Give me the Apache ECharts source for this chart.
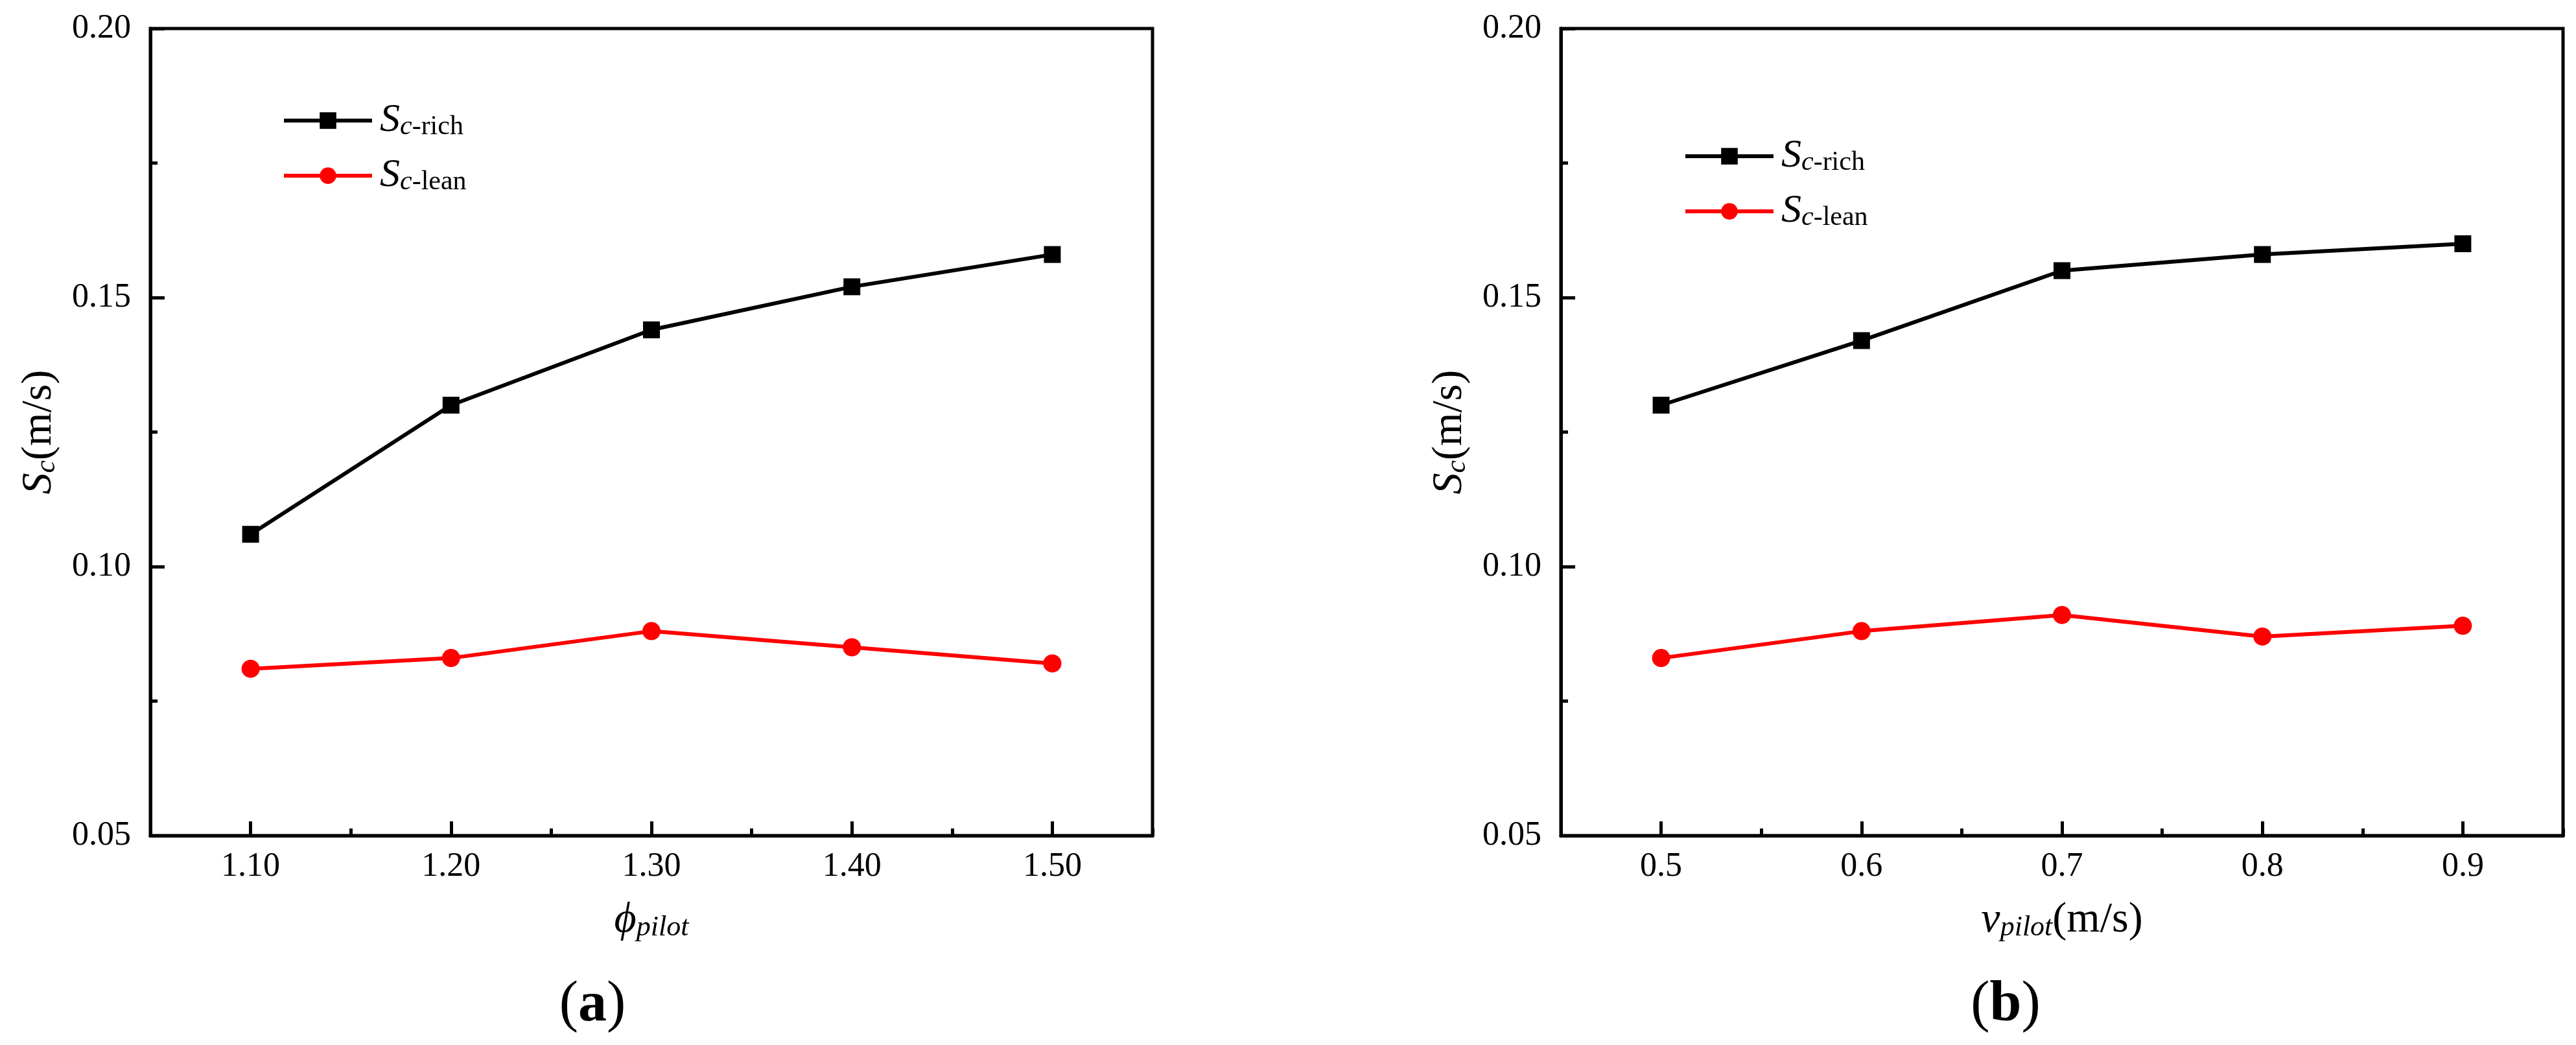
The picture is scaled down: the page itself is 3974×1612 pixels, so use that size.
<!DOCTYPE html>
<html>
<head>
<meta charset="utf-8">
<script src="https://cdn.jsdelivr.net/npm/echarts@6/dist/echarts.min.js"></script>
<style>
html,body{margin:0;padding:0;background:#fff;}
#chart{width:3974px;height:1612px;}
</style>
</head>
<body>
<div id="chart"></div>
<script>
// ---- data ----
const phiPilot = [1.10, 1.20, 1.30, 1.40, 1.50];
const richA = [0.106, 0.130, 0.144, 0.152, 0.158];
const leanA = [0.081, 0.083, 0.088, 0.085, 0.082];

const vPilot = [0.5, 0.6, 0.7, 0.8, 0.9];
const richB = [0.130, 0.142, 0.155, 0.158, 0.160];
const leanB = [0.083, 0.088, 0.091, 0.087, 0.089];

const xTicksA = [1.10, 1.20, 1.30, 1.40, 1.50];
const xTicksB = [0.5, 0.6, 0.7, 0.8, 0.9];
const yTicks = [0.05, 0.10, 0.15, 0.20];

const seriesNames = ['Sc-rich', 'Sc-lean'];
const panelLabels = ['a', 'b'];

// ---- styling ----
const FONT = '"Liberation Serif", "Times New Roman", "DejaVu Serif", serif';
const LW = 6;
const TW = 5;
const zip = (xs, ys) => xs.map((x, i) => [x, ys[i]]);

const subRich = {
  S: {fontFamily: FONT, fontStyle: 'italic', fontSize: 66, lineHeight: 66, color: '#000', verticalAlign: 'bottom'},
  c: {fontFamily: FONT, fontStyle: 'italic', fontSize: 44, lineHeight: 20, color: '#000', verticalAlign: 'bottom'},
  t: {fontFamily: FONT, fontSize: 66, lineHeight: 66, color: '#000', verticalAlign: 'bottom'},
  phi: {fontFamily: FONT, fontStyle: 'italic', fontSize: 66, lineHeight: 66, color: '#000', verticalAlign: 'bottom'}
};
const legRich = {
  S: {fontFamily: FONT, fontStyle: 'italic', fontSize: 62, lineHeight: 62, color: '#000', verticalAlign: 'bottom', padding: [0, 0, 0, 7]},
  c: {fontFamily: FONT, fontStyle: 'italic', fontSize: 42, lineHeight: 19, color: '#000', verticalAlign: 'bottom'},
  t: {fontFamily: FONT, fontSize: 42, lineHeight: 19, color: '#000', verticalAlign: 'bottom'}
};

const grids = [
  {left: 232, top: 44, width: 1546, height: 1245},
  {left: 2408, top: 44, width: 1546, height: 1245}
];

function labelStyle(fmt, custom) {
  const o = {show: true, color: '#000', fontFamily: FONT, fontSize: 52, formatter: fmt};
  if (custom) o.customValues = custom;
  return o;
}

const xAxes = [];
const yAxes = [];
const xDefs = [
  {min: 1.05, max: 1.55, ticks: xTicksA, dec: 2, name: '{phi|ϕ}{c|pilot}'},
  {min: 0.45, max: 0.95, ticks: xTicksB, dec: 1, name: '{phi|v}{c|pilot}{t|(m/s)}'}
];
xDefs.forEach((d, g) => {
  xAxes.push({
    type: 'value', gridIndex: g, position: 'bottom', min: d.min, max: d.max,
    axisLine: {show: true, onZero: false, lineStyle: {color: '#000', width: 5}},
    axisTick: {show: true, inside: true, length: 22, lineStyle: {color: '#000', width: TW}, customValues: d.ticks},
    axisLabel: Object.assign(labelStyle(v => Number(v).toFixed(d.dec), d.ticks), {margin: 22}),
    splitLine: {show: false},
    name: d.name, nameLocation: 'middle', nameGap: 98,
    nameTextStyle: {rich: subRich}
  });
});
// minor tick overlay axes
xDefs.forEach((d, g) => {
  xAxes.push({
    type: 'value', gridIndex: g, position: 'bottom', min: d.min, max: d.max, interval: 0.05,
    axisLine: {show: false},
    axisTick: {show: true, inside: true, length: 11, lineStyle: {color: '#000', width: TW}},
    axisLabel: {show: false},
    splitLine: {show: false}
  });
});
[0, 1].forEach(g => {
  yAxes.push({
    type: 'value', gridIndex: g, min: 0.05, max: 0.20, interval: 0.05,
    axisLine: {show: true, onZero: false, lineStyle: {color: '#000', width: 5}},
    axisTick: {show: true, inside: true, length: 22, lineStyle: {color: '#000', width: TW}},
    minorTick: {show: true, splitNumber: 2, length: 11, lineStyle: {color: '#000', width: TW}},
    axisLabel: Object.assign(labelStyle(v => Number(v).toFixed(2)), {margin: 30}),
    splitLine: {show: false}, minorSplitLine: {show: false},
    name: '{S|S}{c|c}{t|(m/s)}', nameLocation: 'middle', nameGap: 138,
    nameTextStyle: {rich: subRich}
  });
});

function mkSeries(name, data, g, color, symbol, size) {
  return {
    type: 'line', name: name, xAxisIndex: g, yAxisIndex: g, data: data,
    symbol: symbol, symbolSize: size, showSymbol: true,
    lineStyle: {color: color, width: LW},
    itemStyle: {color: color, borderWidth: 0},
    z: 3
  };
}

const series = [
  mkSeries(seriesNames[0], zip(phiPilot, richA), 0, '#000000', 'rect', 26),
  mkSeries(seriesNames[1], zip(phiPilot, leanA), 0, '#ff0000', 'circle', 28),
  mkSeries(seriesNames[0], zip(vPilot, richB), 1, '#000000', 'rect', 26),
  mkSeries(seriesNames[1], zip(vPilot, leanB), 1, '#ff0000', 'circle', 28)
];

function legendFmt(n) {
  return '{S|S}{c|c}{t|' + n.slice(2) + '}';
}
const legends = [
  {left: 435, top: 155},
  {left: 2597, top: 210}
].map(p => ({
  show: true, orient: 'vertical', left: p.left, top: p.top, padding: 0,
  itemWidth: 136, itemHeight: 32, itemGap: 23,
  data: seriesNames, selectedMode: false,
  formatter: legendFmt,
  lineStyle: {width: LW},
  textStyle: {rich: legRich}
}));

const panelText = panelLabels.map((l, i) => ({
  type: 'text', x: [914, 3094][i], y: 1551,
  style: {
    text: '{p|(}{b|' + l + '}{p|)}', align: 'center', verticalAlign: 'middle',
    rich: {
      p: {fontFamily: FONT, fontSize: 88, fill: '#000'},
      b: {fontFamily: FONT, fontSize: 88, fontWeight: 'bold', fill: '#000'}
    }
  }
}));

const chart = echarts.init(document.getElementById('chart'), null, {renderer: 'canvas'});
chart.setOption({
  backgroundColor: '#ffffff',
  animation: false,
  grid: grids.map(g => Object.assign({show: true, borderColor: '#000', borderWidth: 5, backgroundColor: 'transparent', containLabel: false}, g)),
  xAxis: xAxes,
  yAxis: yAxes,
  legend: legends,
  series: series,
  graphic: panelText
});
</script>
</body>
</html>
